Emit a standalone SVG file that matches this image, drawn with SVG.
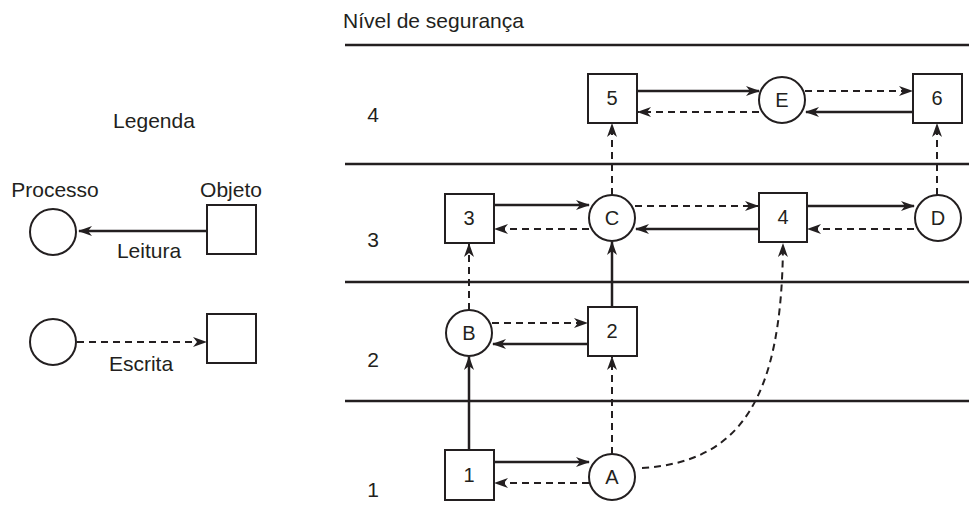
<svg xmlns="http://www.w3.org/2000/svg" width="969" height="513" viewBox="0 0 969 513">
<style>
text{font-family:"Liberation Sans",Arial,sans-serif;font-size:21px;fill:#231f20}
.n text{font-size:20px}
.c{text-anchor:middle}
.n rect,.n circle{fill:#fff;stroke:#231f20;stroke-width:2}
.lvl{stroke:#231f20;stroke-width:2.5}
.s{stroke:#231f20;stroke-width:2.5;fill:none;marker-end:url(#ah)}
.d{stroke:#231f20;stroke-width:2;fill:none;stroke-dasharray:7 5;marker-end:url(#ah)}
</style>
<defs>
<marker id="ah" markerWidth="14" markerHeight="10" refX="13" refY="5" orient="auto" markerUnits="userSpaceOnUse">
<path d="M0,0 L14,5 L0,10 L4,5 z" fill="#231f20"/>
</marker>
</defs>
<g id="levels">
<line class="lvl" x1="345" y1="45" x2="969" y2="45"/>
<line class="lvl" x1="345" y1="164" x2="969" y2="164"/>
<line class="lvl" x1="345" y1="282" x2="969" y2="282"/>
<line class="lvl" x1="345" y1="401" x2="969" y2="401"/>
<text x="343" y="28">Nível de segurança</text>
<text x="373" y="122" class="c">4</text>
<text x="373" y="247" class="c">3</text>
<text x="373" y="367" class="c">2</text>
<text x="373" y="497" class="c">1</text>
</g>
<g id="legend">
<text x="154" y="128" class="c">Legenda</text>
<text x="55" y="197" class="c">Processo</text>
<text x="231" y="197" class="c">Objeto</text>
<g class="n"><circle cx="53" cy="232" r="23"/><rect x="207" y="205" width="49" height="49"/>
<circle cx="53" cy="342" r="23"/><rect x="207" y="314" width="49" height="49"/></g>
<line class="s" x1="207" y1="231" x2="79" y2="231"/>
<line class="d" x1="77" y1="342" x2="206" y2="342"/>
<text x="149" y="258" class="c">Leitura</text>
<text x="141" y="371" class="c">Escrita</text>
</g>
<g id="connectors">
<line class="s" x1="637" y1="91" x2="759" y2="91"/>
<line class="d" x1="759" y1="112" x2="638" y2="112"/>
<line class="d" x1="805" y1="91" x2="912" y2="91"/>
<line class="s" x1="913" y1="112" x2="806" y2="112"/>
<line class="s" x1="494" y1="205" x2="589" y2="205"/>
<line class="d" x1="589" y1="229" x2="495" y2="229"/>
<line class="d" x1="635" y1="206" x2="758" y2="206"/>
<line class="s" x1="759" y1="229" x2="636" y2="229"/>
<line class="s" x1="807" y1="206" x2="914" y2="206"/>
<line class="d" x1="914" y1="229" x2="808" y2="229"/>
<line class="d" x1="492" y1="323" x2="587" y2="323"/>
<line class="s" x1="588" y1="344" x2="493" y2="344"/>
<line class="s" x1="494" y1="462" x2="589" y2="462"/>
<line class="d" x1="589" y1="483" x2="495" y2="483"/>
<line class="d" x1="469" y1="310" x2="469" y2="244"/>
<line class="s" x1="469" y1="450" x2="469" y2="357"/>
<line class="d" x1="612" y1="454" x2="612" y2="357"/>
<line class="s" x1="612" y1="307" x2="612" y2="242"/>
<line class="d" x1="612" y1="195" x2="612" y2="124"/>
<line class="d" x1="937" y1="195" x2="937" y2="124"/>
<path class="d" d="M642,468 C740,462 782,400 783,244"/>
</g>
<g id="n5" class="n"><rect x="588" y="74" width="49" height="49"/><text x="612" y="105" class="c">5</text></g>
<g id="nE" class="n"><circle cx="782" cy="100" r="23"/><text x="782" y="107" class="c">E</text></g>
<g id="n6" class="n"><rect x="913" y="74" width="49" height="49"/><text x="937" y="105" class="c">6</text></g>
<g id="n3" class="n"><rect x="445" y="194" width="49" height="49"/><text x="469" y="225" class="c">3</text></g>
<g id="nC" class="n"><circle cx="612" cy="218" r="23"/><text x="612" y="225" class="c">C</text></g>
<g id="n4" class="n"><rect x="759" y="193" width="48" height="49"/><text x="783" y="224" class="c">4</text></g>
<g id="nD" class="n"><circle cx="938" cy="218" r="23"/><text x="938" y="225" class="c">D</text></g>
<g id="nB" class="n"><circle cx="469" cy="333" r="23"/><text x="469" y="340" class="c">B</text></g>
<g id="n2" class="n"><rect x="588" y="307" width="49" height="49"/><text x="612" y="338" class="c">2</text></g>
<g id="n1" class="n"><rect x="445" y="450" width="49" height="50"/><text x="469" y="482" class="c">1</text></g>
<g id="nA" class="n"><circle cx="612" cy="477" r="23"/><text x="612" y="484" class="c">A</text></g>
</svg>
